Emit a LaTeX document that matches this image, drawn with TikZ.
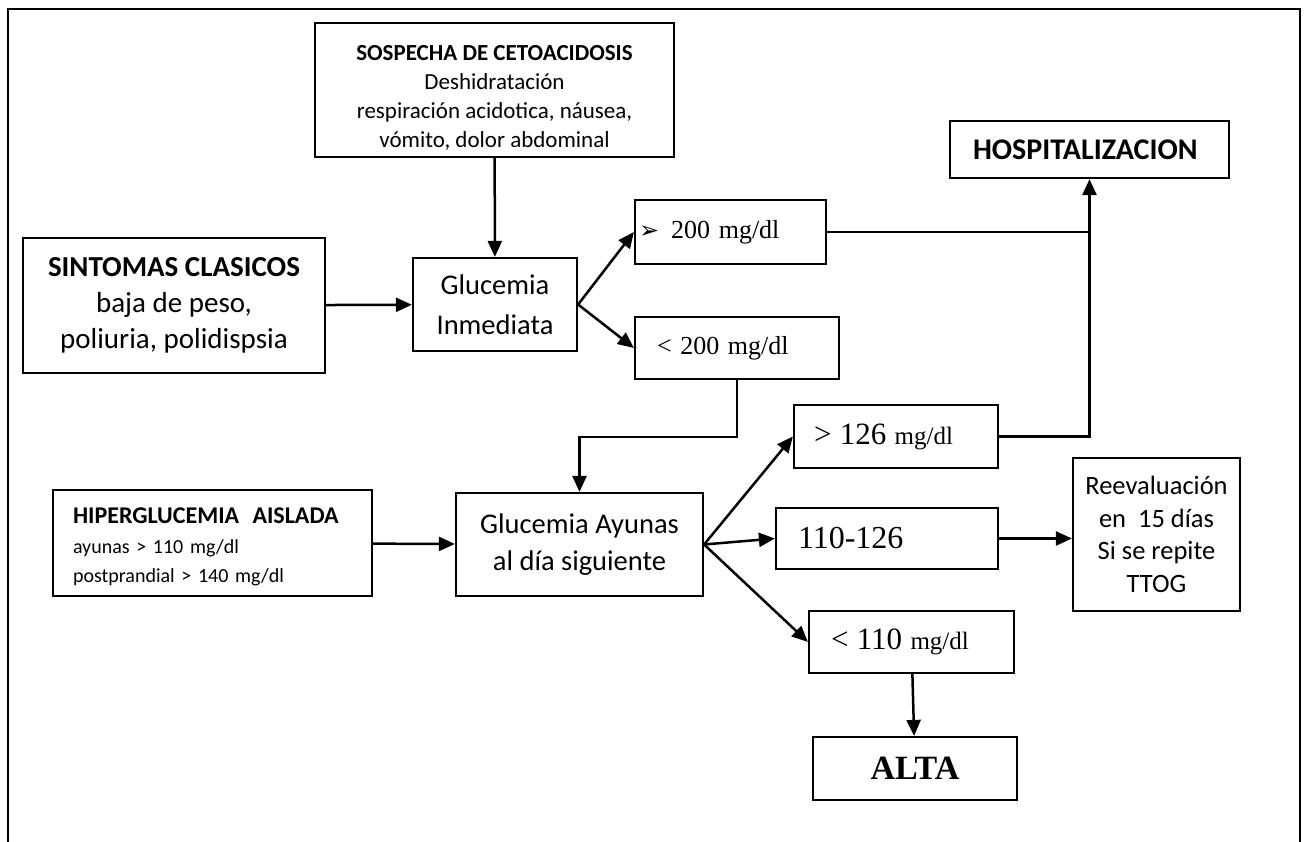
\documentclass[tikz,border=0pt]{standalone}
\usepackage{fontspec}
\setmainfont{Carlito}
\newfontfamily\tnr{Liberation Serif}
\newfontfamily\djv{DejaVu Sans}
\usetikzlibrary{arrows.meta}
\newcommand{\fs}[2]{\fontsize{#1}{#2}\selectfont}

\begin{document}
\begin{tikzpicture}[x=1pt, y=-1pt,
box/.style={draw, line width=2.2pt, inner sep=0pt, align=center},
arr/.style={line width=2.5pt, -{Triangle[length=16pt,width=14pt]}},
ln/.style={line width=2.5pt}]
\useasboundingbox (0,0) rectangle (1307,842);
\draw[line width=2.5pt] (8,842) -- (8,9) -- (1300,9) -- (1300,842);

\node[box, minimum width=359pt, minimum height=134pt, font=\fs{23}{29}] (sosp) at (494.5,90) {\rule{0pt}{31pt}\textbf{SOSPECHA DE CETOACIDOSIS}\\ Deshidratación\\ respiración acidotica, náusea,\\ vómito, dolor abdominal};
\node[box, minimum width=302pt, minimum height=135pt, font=\fs{29}{36}] (sint) at (174,305.5) {\textbf{SINTOMAS CLASICOS}\\ baja de peso,\\ poliuria, polidispsia};
\node[box, minimum width=164pt, minimum height=93pt, font=\fs{28.5}{40}] (glucI) at (495,304.5) {Glucemia\\ Inmediata};
\node[box, minimum width=191pt, minimum height=64pt, align=left, text width=183pt, inner xsep=4pt, font=\tnr\fs{26}{30}] (g200) at (730.5,232) {{\djv\fs{24}{24}➢}\hspace{12pt}200 mg/dl};
\node[box, minimum width=204pt, minimum height=62pt, align=left, text width=160pt, inner xsep=22pt, font=\tnr\fs{26}{30}] (l200) at (737,348) {< 200 mg/dl};
\node[box, minimum width=279pt, minimum height=57pt, align=left, text width=233pt, inner xsep=23pt, font=\bfseries\fs{30}{35}] (hosp) at (1089.5,149.5) {HOSPITALIZACION};
\node[box, minimum width=204pt, minimum height=63pt, align=left, text width=164pt, inner xsep=20pt, font=\tnr\fs{25}{30}] (g126) at (896,436.5) {{\fs{31}{30}> 126} mg/dl};
\node[box, minimum width=319pt, minimum height=106pt, align=left, text width=279pt, inner xsep=20pt, font=\fs{20}{29.5}] (hiper) at (212.5,543) {\rule{0pt}{23.5pt}{\bfseries\fs{24}{29.5}HIPERGLUCEMIA\ \ AISLADA}\\ ayunas > 110 mg/dl\\ postprandial > 140 mg/dl};
\node[box, minimum width=247pt, minimum height=103pt, font=\fs{28.5}{37}] (glucA) at (579.5,544.5) {Glucemia Ayunas\\ al día siguiente};
\node[box, minimum width=222pt, minimum height=61pt, align=left, text width=178pt, inner xsep=22pt, font=\tnr\fs{32}{32}] (r110) at (887,538.5) {110-126};
\node[box, minimum width=167pt, minimum height=153pt, font=\fs{26.5}{32.5}] (reev) at (1156.5,534.5) {Reevaluación\\ en\ \ 15 días\\ Si se repite\\ TTOG};
\node[box, minimum width=205pt, minimum height=62pt, align=left, text width=161pt, inner xsep=22pt, font=\tnr\fs{25}{30}] (l110) at (911.5,642) {{\fs{31}{30}< 110} mg/dl};
\node[box, minimum width=204pt, minimum height=63pt, font=\tnr\bfseries\fs{34}{34}] (alta) at (915,768.5) {ALTA};

\draw[arr] (sosp) -- (glucI);
\draw[arr] (sint) -- (glucI);
\draw[arr] (glucI.east) -- (g200.west);
\draw[arr] (glucI.east) -- (l200.west);
\draw[ln] (g200) -- (g200 -| hosp);
\draw[arr] (g126) -| (hosp);
\draw[arr] (l200.south) -- ++(0,57) -| (glucA.north);
\draw[arr] (hiper) -- (glucA);
\draw[arr] (glucA.east) -- (g126.west);
\draw[arr] (glucA.east) -- (r110.west);
\draw[arr] (glucA.east) -- (l110.west);
\draw[arr] (r110) -- (r110 -| reev.west);
\draw[arr] (l110) -- (alta);
\end{tikzpicture}
\end{document}
